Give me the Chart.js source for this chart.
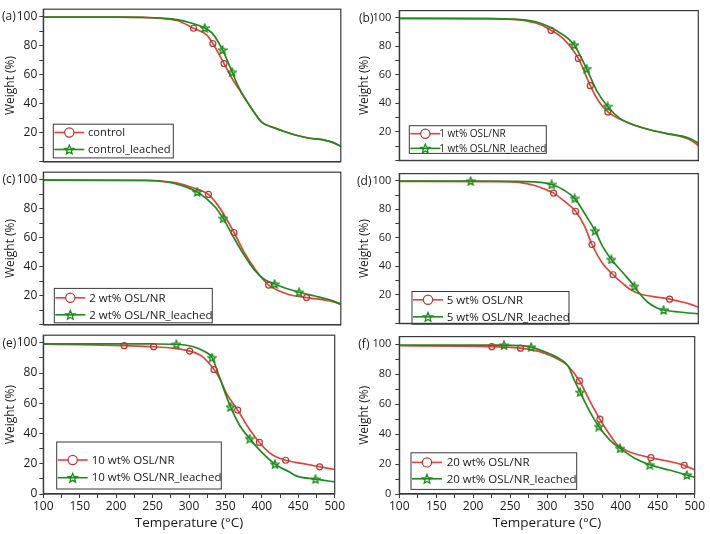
<!DOCTYPE html>
<html>
<head>
<meta charset="utf-8">
<script src="https://cdn.jsdelivr.net/npm/chart.js@4.4.1/dist/chart.umd.min.js"></script>
<style>
  body { margin: 0; background: #fff; }
  #wrap { position: relative; width: 710px; height: 534px; overflow: hidden; }
  #wrap canvas { position: absolute; }
</style>
</head>
<body>
<div id="wrap">
  <canvas id="pa"></canvas><canvas id="pb"></canvas>
  <canvas id="pc"></canvas><canvas id="pd"></canvas>
  <canvas id="pe"></canvas><canvas id="pf"></canvas>
</div>
<script>
// (a) control
const aRedT = [100, 200, 240, 260, 280, 302, 320, 328, 343, 353, 363, 380, 394, 410, 425, 440, 456, 478, 490, 500];
const aRedW = [99.5, 99.5, 99.2, 98.6, 97.2, 91.9, 87.2, 81.4, 67.6, 58, 50, 36.7, 27.1, 23.5, 20.7, 18.3, 16.4, 14.9, 13.2, 10.6];
const aGreenT = [100, 200, 240, 260, 280, 300, 317, 327, 341, 354, 363, 380, 394, 410, 425, 440, 456, 478, 490, 500];
const aGreenW = [99.5, 99.5, 99.3, 98.8, 97.8, 95.3, 92.1, 88.5, 77, 61.6, 51, 36.7, 27.1, 23.5, 20.7, 18.3, 16.4, 14.9, 13.2, 10.6];
const aRedMarkT = [302, 328, 343];
const aRedMarkW = [91.9, 81.4, 67.6];
const aGreenMarkT = [317, 341, 354];
const aGreenMarkW = [92.1, 77, 61.6];

// (b) 1 wt%
const bRedT = [100, 220, 250, 270, 290, 303, 320, 339.5, 355.5, 366, 379, 395, 413, 435, 458, 480, 490, 500];
const bRedW = [99.5, 99.4, 98.9, 97.8, 95, 91.2, 85, 71.5, 52.4, 42, 34, 29, 25, 21.5, 18.8, 16.2, 14.2, 10.4];
const bGreenT = [100, 220, 250, 270, 290, 310, 334, 350.6, 365, 378.7, 395, 413, 435, 458, 480, 490, 500];
const bGreenW = [99.5, 99.4, 99.1, 98.3, 96, 91, 80.9, 64.2, 48, 37.8, 29.5, 25, 21.5, 18.8, 16.8, 15, 12.1];
const bRedMarkT = [303, 339.5, 355.5, 379];
const bRedMarkW = [91.2, 71.5, 52.4, 34];
const bGreenMarkT = [334, 350.6, 378.7];
const bGreenMarkW = [80.9, 64.2, 37.8];

// (c) 2 wt%
const cRedT = [100, 240, 260, 280, 300, 322, 335, 345, 356.4, 370, 385, 395, 403, 429, 454, 475, 490, 500];
const cRedW = [99.5, 99.4, 98.8, 97.5, 94.5, 89.7, 82, 74, 63.5, 50, 38, 31.5, 27.3, 21, 18.7, 17.3, 15.8, 14.2];
const cGreenT = [100, 240, 260, 280, 307, 320, 332, 341.8, 355, 370, 385, 398, 411, 428, 444, 465, 485, 500];
const cGreenW = [99.5, 99.3, 98.6, 96.8, 91.4, 86.5, 80.5, 73.2, 61, 48, 37, 31, 28.1, 24.8, 22.4, 19.8, 17.2, 14.2];
const cRedMarkT = [322, 356.4, 403, 454];
const cRedMarkW = [89.7, 63.5, 27.3, 18.7];
const cGreenMarkT = [307, 341.8, 411, 444];
const cGreenMarkW = [91.4, 73.2, 28.1, 22.4];

// (d) 5 wt%
const dRedT = [100, 240, 260, 280, 295, 306.4, 320, 335.9, 348, 357.8, 372, 385.9, 400, 408.6, 422, 440, 461.6, 480, 490, 500];
const dRedW = [99.6, 99.4, 98.8, 96.8, 94, 91.3, 86, 78.6, 68, 55.3, 42, 34.1, 27.5, 24, 20.6, 18.8, 17, 14.8, 13.3, 11.4];
const dGreenT = [100, 195.4, 250, 280, 303.8, 320, 334.6, 348, 361.9, 372, 383.7, 400, 414.5, 422, 432, 444, 453.6, 475, 500];
const dGreenW = [99.7, 99.8, 99.6, 99.2, 97.4, 93.5, 87.6, 77, 64.9, 54, 44.8, 35, 26, 20.6, 15, 11, 9.4, 8, 6.7];
const dRedMarkT = [306.4, 335.9, 357.8, 385.9, 461.6];
const dRedMarkW = [91.3, 78.6, 55.3, 34.1, 17];
const dGreenMarkT = [195.4, 303.8, 334.6, 361.9, 383.7, 414.5, 453.6];
const dGreenMarkW = [99.8, 97.4, 87.6, 64.9, 44.8, 26, 9.4];

// (e) 10 wt%
const eRedT = [100, 150, 211, 251.5, 280, 300.9, 318, 334.3, 342.7, 352, 366.8, 380, 396.6, 410, 420, 432.7, 455, 479.4, 500];
const eRedW = [99, 98.8, 98.1, 97.4, 96.3, 94.5, 91, 82.3, 75.8, 66, 55.5, 45, 34.1, 27.5, 24.4, 22.3, 20.2, 18, 16.2];
const eGreenT = [100, 200, 250, 282.6, 305, 320, 331.7, 340.5, 357, 370, 383.3, 400, 418, 438, 447, 473.7, 500];
const eGreenW = [99.3, 99.3, 99.2, 99, 97.5, 94.5, 90.2, 79, 57.6, 45, 36.6, 27.5, 19.7, 14.5, 12, 9.8, 8];
const eRedMarkT = [211, 251.5, 300.9, 334.3, 366.8, 396.6, 432.7, 479.4];
const eRedMarkW = [98.1, 97.4, 94.5, 82.3, 55.5, 34.1, 22.3, 18];
const eGreenMarkT = [282.6, 331.7, 357, 383.3, 418, 473.7];
const eGreenMarkW = [99, 90.2, 57.6, 36.6, 19.7, 9.8];

// (f) 20 wt%
const fRedT = [100, 180, 225.3, 264.1, 290, 306, 320, 328.4, 344, 358, 371.6, 385, 395, 408.7, 425, 440.7, 465, 485.8, 500];
const fRedW = [98.9, 98.7, 98.3, 97.3, 95, 92, 88.5, 85.5, 75.4, 62, 49.9, 39.5, 33, 28.7, 26, 24.2, 21.8, 19.1, 16.1];
const fGreenT = [100, 200, 241.8, 278.5, 306, 318, 328.4, 336, 344.8, 358, 370.2, 385, 398.9, 420, 439, 465, 489.3, 500];
const fGreenW = [99.3, 99.3, 99.3, 98, 93, 90, 85.5, 77, 67.9, 55, 45, 36, 30.4, 23.5, 19.5, 16, 12.7, 11.1];
const fRedMarkT = [225.3, 264.1, 344, 371.6, 440.7, 485.8];
const fRedMarkW = [98.3, 97.3, 75.4, 49.9, 24.2, 19.1];
const fGreenMarkT = [241.8, 278.5, 344.8, 370.2, 398.9, 439, 489.3];
const fGreenMarkW = [99.3, 98, 67.9, 45, 30.4, 19.5, 12.7];

const RED = '#e8403a';
const RED_MARK = '#b03a34';
const GREEN = '#1c8c1c';
const INK = '#1a1a1a';
const FRAME = '#3a3a3a';
const FONT = 'Open Sans';

const zip = (xs, ys) => xs.map((x, i) => ({ x: x, y: ys[i] }));

function drawStar(g, cx, cy, R, color, lw) {
  g.beginPath();
  for (let i = 0; i < 10; i++) {
    const r = i % 2 ? R * 0.45 : R;
    const a = -Math.PI / 2 + i * Math.PI / 5;
    g.lineTo(cx + r * Math.cos(a), cy + r * Math.sin(a));
  }
  g.closePath();
  g.strokeStyle = color;
  g.lineWidth = lw;
  g.stroke();
}

function starImage() {
  const c = document.createElement('canvas');
  c.width = 10; c.height = 10;
  drawStar(c.getContext('2d'), 5, 5.4, 4.2, GREEN, 1.4);
  return c;
}
const STAR = starImage();

// box round the plot area
const framePlugin = {
  id: 'frame',
  afterDraw(chart) {
    const a = chart.chartArea, g = chart.ctx;
    g.save();
    g.strokeStyle = FRAME;
    g.lineWidth = 1.2;
    g.strokeRect(a.left, a.top, a.right - a.left, a.bottom - a.top);
    g.restore();
  }
};

// panel letter and the boxed legend
const notesPlugin = {
  id: 'notes',
  afterDraw(chart, args, o) {
    const g = chart.ctx, a = chart.chartArea;
    g.save();
    g.fillStyle = INK;
    g.font = '12px "' + FONT + '"';
    g.textBaseline = 'middle';
    g.textAlign = 'left';
    g.fillText(o.tag, o.tagX, chart.scales.y.getPixelForValue(100) + 0.5);

    const bx = a.left + o.box[0], by = a.top + o.box[1], bw = o.box[2], bh = o.box[3];
    g.strokeStyle = FRAME;
    g.lineWidth = 1;
    g.strokeRect(bx, by, bw, bh);
    g.font = o.size + 'px "' + FONT + '"';
    o.labels.forEach((txt, i) => {
      const y = by + o.rows[i];
      g.strokeStyle = i ? GREEN : RED;
      g.lineWidth = 1.6;
      g.beginPath();
      g.moveTo(bx + 1, y);
      g.lineTo(bx + 31, y);
      g.stroke();
      if (i) {
        drawStar(g, bx + 16, y + 0.5, 4.8, GREEN, 1.3);
      } else {
        g.beginPath();
        g.arc(bx + 16, y, 4.6, 0, Math.PI * 2);
        g.fillStyle = '#fff';
        g.fill();
        g.strokeStyle = RED_MARK;
        g.lineWidth = 1.2;
        g.stroke();
      }
      g.fillStyle = INK;
      g.fillText(txt, bx + o.textX, y + 0.5);
    });
    g.restore();
  }
};

function panel(id, p) {
  const cv = document.getElementById(id);
  const top = Math.max(0, Math.floor(p.plotTop) - 4);
  const padTop = p.plotTop - top;
  const xH = p.bottom ? 40 : 0;
  cv.width = p.w;
  cv.height = Math.ceil(padTop + (p.plotBottom - p.plotTop) + xH + (p.bottom ? 0 : 3));
  cv.style.left = p.left + 'px';
  cv.style.top = top + 'px';

  new Chart(cv, {
    type: 'line',
    data: {
      datasets: [
        { data: zip(p.gmT, p.gmW), showLine: false, pointStyle: STAR, pointRadius: 4 },
        { data: zip(p.rmT, p.rmW), showLine: false, pointStyle: 'circle', pointRadius: 3,
          pointBorderWidth: 1.2, pointBorderColor: RED_MARK, pointBackgroundColor: 'rgba(255,255,255,0)' },
        { data: zip(p.gT, p.gW), borderColor: GREEN, borderWidth: 1.7, pointRadius: 0,
          cubicInterpolationMode: 'monotone' },
        { data: zip(p.rT, p.rW), borderColor: RED, borderWidth: 1.7, pointRadius: 0,
          cubicInterpolationMode: 'monotone' }
      ]
    },
    options: {
      responsive: false,
      animation: false,
      events: [],
      layout: { padding: { left: 0, right: p.padR, top: padTop, bottom: p.bottom ? 0 : 3 } },
      plugins: {
        legend: { display: false },
        tooltip: { enabled: false },
        notes: { tag: p.tag, tagX: p.tagX, box: p.box, rows: p.rows, textX: p.textX, size: p.size, labels: p.labels }
      },
      scales: {
        x: {
          type: 'linear', min: 100, max: 500,
          ticks: {
            display: p.bottom, stepSize: 25, autoSkip: false, maxRotation: 0, padding: 1,
            color: INK, font: { family: FONT, size: 12 },
            callback: v => (v % 50 === 0 ? v : '')
          },
          grid: { drawOnChartArea: false, drawTicks: p.bottom, tickLength: 4, color: FRAME },
          border: { display: true, color: FRAME, width: 1.2 },
          title: {
            display: p.bottom, text: 'Temperature (°C)', color: INK,
            font: { family: FONT, size: 13.5 }, padding: { top: 0, bottom: 3 }
          },
          afterFit: s => { s.height = xH; }
        },
        y: {
          min: 0, max: 105,
          ticks: {
            stepSize: 10, includeBounds: false, autoSkip: false, padding: p.tickPad,
            color: INK, font: { family: FONT, size: p.tickSize },
            callback: v => (v % 20 === 0 && (v > 0 || p.bottom) ? v : '')
          },
          grid: { drawOnChartArea: false, tickLength: 4, color: FRAME },
          border: { display: true, color: FRAME, width: 1.2 },
          title: {
            display: true, text: 'Weight (%)', color: INK,
            font: { family: FONT, size: 12 }, padding: { top: p.titlePad, bottom: 0 }
          },
          afterFit: s => { s.width = p.axisW; }
        }
      }
    },
    plugins: [framePlugin, notesPlugin]
  });
}

const LEFT = { left: 0, w: 346, padR: 3.3, axisW: 43.3, titlePad: 3.6, tickSize: 12, tickPad: 2 };
const RIGHT = { left: 350, w: 356, padR: 7.7, axisW: 49.3, titlePad: 7, tickSize: 11, tickPad: 4 };
const ROW0 = { plotTop: 3.9, plotBottom: 167.1, bottom: false };
const ROW1 = { plotTop: 167.1, plotBottom: 330.5, bottom: false };
const ROW2 = { plotTop: 330.5, plotBottom: 494, bottom: true };

panel('pa', Object.assign({}, LEFT, ROW0, {
  rT: aRedT, rW: aRedW, gT: aGreenT, gW: aGreenW, rmT: aRedMarkT, rmW: aRedMarkW, gmT: aGreenMarkT, gmW: aGreenMarkW,
  tag: '(a)', tagX: 2, box: [10, 115, 120, 33.7], rows: [8.3, 25.3], textX: 34.7, size: 11.2,
  labels: ['control', 'control_leached']
}));
panel('pb', Object.assign({}, RIGHT, ROW0, {
  rT: bRedT, rW: bRedW, gT: bGreenT, gW: bGreenW, rmT: bRedMarkT, rmW: bRedMarkW, gmT: bGreenMarkT, gmW: bGreenMarkW,
  tag: '(b)', tagX: 9, box: [10, 115.1, 137, 27.7], rows: [8, 22.7], textX: 30, size: 10,
  labels: ['1 wt% OSL/NR', '1 wt% OSL/NR_leached']
}));
panel('pc', Object.assign({}, LEFT, ROW1, {
  rT: cRedT, rW: cRedW, gT: cGreenT, gW: cGreenW, rmT: cRedMarkT, rmW: cRedMarkW, gmT: cGreenMarkT, gmW: cGreenMarkW,
  tag: '(c)', tagX: 2.5, box: [11, 116.2, 158, 34.4], rows: [9.4, 26.4], textX: 35, size: 11.5,
  labels: ['2 wt% OSL/NR', '2 wt% OSL/NR_leached']
}));
panel('pd', Object.assign({}, RIGHT, ROW1, {
  rT: dRedT, rW: dRedW, gT: dGreenT, gW: dGreenW, rmT: dRedMarkT, rmW: dRedMarkW, gmT: dGreenMarkT, gmW: dGreenMarkW,
  tag: '(d)', tagX: 7, box: [12.7, 117.9, 157, 32.7], rows: [8.3, 25.3], textX: 34.7, size: 11.5,
  labels: ['5 wt% OSL/NR', '5 wt% OSL/NR_leached']
}));
panel('pe', Object.assign({}, LEFT, ROW2, {
  rT: eRedT, rW: eRedW, gT: eGreenT, gW: eGreenW, rmT: eRedMarkT, rmW: eRedMarkW, gmT: eGreenMarkT, gmW: eGreenMarkW,
  tag: '(e)', tagX: 2.5, box: [13.4, 106.8, 164.6, 47], rows: [18, 35.7], textX: 35, size: 11.5,
  labels: ['10 wt% OSL/NR', '10 wt% OSL/NR_leached']
}));
panel('pf', Object.assign({}, RIGHT, ROW2, {
  rT: fRedT, rW: fRedW, gT: fGreenT, gW: fGreenW, rmT: fRedMarkT, rmW: fRedMarkW, gmT: fGreenMarkT, gmW: fGreenMarkW,
  tag: '(f)', tagX: 8.3, box: [11.7, 116.2, 165.7, 36.6], rows: [9.6, 26], textX: 35.7, size: 11.5,
  labels: ['20 wt% OSL/NR', '20 wt% OSL/NR_leached']
}));
</script>
</body>
</html>
